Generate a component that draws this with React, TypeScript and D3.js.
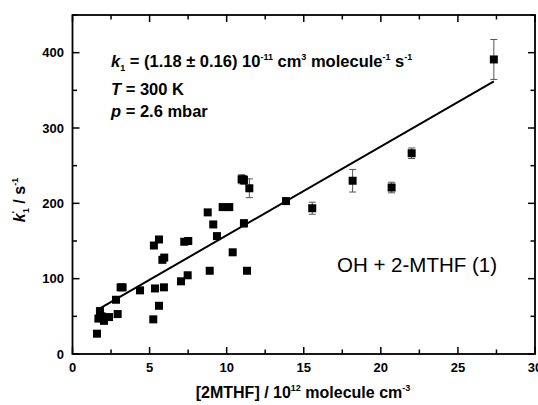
import React from "react";
import * as d3 from "d3";

const concentration = [1.59, 1.78, 1.68, 1.89, 2.04, 2.37, 2.82, 2.93, 3.12, 3.25, 4.38, 5.24, 5.28, 5.35, 5.61, 5.61, 5.83, 5.95, 5.93, 7.04, 7.25, 7.47, 7.51, 8.77, 8.9, 9.13, 9.37, 9.74, 10.17, 10.39, 11.12, 11.32, 10.97, 11.12, 11.47, 13.85, 15.55, 18.17, 20.7, 22.0, 27.33];
const rate = [27, 57, 47, 50, 44, 49, 72, 53, 88.5, 88.5, 84.5, 46, 144, 87, 152, 64, 125, 128, 88.5, 96.5, 149, 104.5, 150, 188, 110.5, 172, 156.5, 195, 195, 135, 173.5, 110.5, 232, 231, 220, 203, 193.5, 230, 221, 266.5, 391];
const rateErr = [2, 2, 2, 2, 2, 2, 2, 2, 2, 2, 2, 2, 2, 2, 2, 2, 2, 2, 2, 2, 3, 2, 3, 2, 2, 2, 2, 4, 4, 2, 5, 2, 6, 6, 12.5, 3, 8, 15, 7, 7, 26.5];
const xTicks = [0, 5, 10, 15, 20, 25, 30];
const yTicks = [0, 100, 200, 300, 400];
const fitSlope = 11.8;
const fitIntercept = 39.5;
const fitRange = [1.78, 27.33];

const W = 538, H = 405;
const L = 72.5, R = 535, T = 15, B = 354;
const FONT = "Arial, 'Liberation Sans', sans-serif";

export default function App() {
  const x = d3.scaleLinear().domain([0, 30]).range([L, R]);
  const y = d3.scaleLinear().domain([0, 450]).range([B, T]);
  const xMinor = d3.range(0, 30.01, 2.5);
  const yMinor = d3.range(0, 450.01, 50);
  const line = d3.line<number>().x((d) => x(d)).y((d) => y(fitSlope * d + fitIntercept));
  const ms = 8;

  return (
    <svg width={W} height={H} style={{ position: "absolute", left: 0, top: 0, background: "#fff" }} fontFamily={FONT}>
      <rect x={0} y={0} width={W} height={H} fill="#fff" />
      {xMinor.map((v, i) => {
        const major = v % 5 === 0;
        const len = major ? 7 : 4.5;
        return (
          <g key={"xt" + i} stroke="#000" strokeWidth={1.5}>
            <line x1={x(v)} x2={x(v)} y1={B} y2={B - len} />
            <line x1={x(v)} x2={x(v)} y1={T} y2={T + len} />
          </g>
        );
      })}
      {yMinor.map((v, i) => {
        const major = v % 100 === 0;
        const len = major ? 7 : 4.5;
        return (
          <g key={"yt" + i} stroke="#000" strokeWidth={1.5}>
            <line x1={L} x2={L + len} y1={y(v)} y2={y(v)} />
            <line x1={R} x2={R - len} y1={y(v)} y2={y(v)} />
          </g>
        );
      })}
      <rect x={L} y={T} width={R - L} height={B - T} fill="none" stroke="#000" strokeWidth={1.8} />
      {xTicks.map((v) => (
        <text key={"xl" + v} x={x(v)} y={372} textAnchor="middle" fontSize={13} fontWeight="bold">{v}</text>
      ))}
      {yTicks.map((v) => (
        <text key={"yl" + v} x={64} y={y(v) + 4.5} textAnchor="end" fontSize={13} fontWeight="bold">{v}</text>
      ))}
      <path d={line(fitRange) || ""} stroke="#000" strokeWidth={2} fill="none" />
      {concentration.map((c, i) => {
        const cx = x(c);
        const e = rateErr[i];
        return (
          <g key={"e" + i} stroke="#555" strokeWidth={1}>
            <line x1={cx} x2={cx} y1={y(rate[i] - e)} y2={y(rate[i] + e)} />
            <line x1={cx - 3.5} x2={cx + 3.5} y1={y(rate[i] - e)} y2={y(rate[i] - e)} />
            <line x1={cx - 3.5} x2={cx + 3.5} y1={y(rate[i] + e)} y2={y(rate[i] + e)} />
          </g>
        );
      })}
      {concentration.map((c, i) => (
        <rect key={"p" + i} x={x(c) - ms / 2} y={y(rate[i]) - ms / 2} width={ms} height={ms} fill="#000" />
      ))}
      <text x={111} y={67} fontSize={16.5} fontWeight="bold">
        <tspan fontStyle="italic">k</tspan>
        <tspan fontSize={9} dy={4}>1</tspan>
        <tspan dy={-4}> = (1.18 ± 0.16) 10</tspan>
        <tspan fontSize={9} dy={-7}>-11</tspan>
        <tspan dy={7}> cm</tspan>
        <tspan fontSize={9} dy={-7}>3</tspan>
        <tspan dy={7}> molecule</tspan>
        <tspan fontSize={9} dy={-7}>-1</tspan>
        <tspan dy={7}> s</tspan>
        <tspan fontSize={9} dy={-7}>-1</tspan>
      </text>
      <text x={111} y={95} fontSize={16.5} fontWeight="bold">
        <tspan fontStyle="italic">T</tspan> = 300 K
      </text>
      <text x={111} y={117} fontSize={16.5} fontWeight="bold">
        <tspan fontStyle="italic">p</tspan> = 2.6 mbar
      </text>
      <text x={337} y={272} fontSize={20.5}>OH + 2-MTHF (1)</text>
      <text x={303} y={398} textAnchor="middle" fontSize={16} fontWeight="bold">
        [2MTHF] / 10
        <tspan fontSize={9} dy={-7}>12</tspan>
        <tspan dy={7}> molecule cm</tspan>
        <tspan fontSize={9} dy={-7}>-3</tspan>
      </text>
      <text transform={`translate(25,200) rotate(-90)`} textAnchor="middle" fontSize={16} fontWeight="bold">
        <tspan fontStyle="italic">k</tspan>
        <tspan fontSize={9} dy={-7}>'</tspan>
        <tspan fontSize={9} dx={-2} dy={11}>1</tspan>
        <tspan dy={-4}> / s</tspan>
        <tspan fontSize={9} dy={-7}>-1</tspan>
      </text>
    </svg>
  );
}
